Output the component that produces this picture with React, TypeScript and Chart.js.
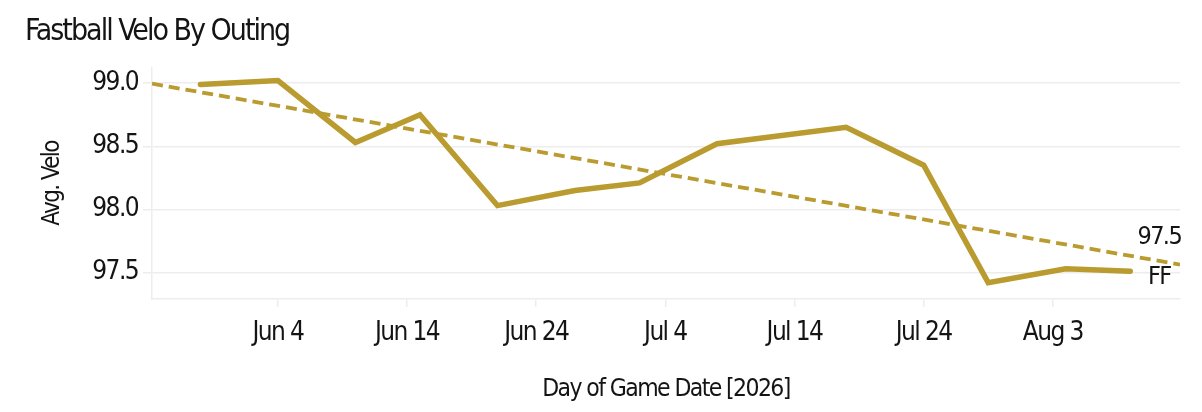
import React, { useEffect, useRef } from "react";
import { Chart, registerables } from "chart.js";

Chart.register(...registerables);

// ---- data ----
const gameDates = [
  "2026-05-29", "2026-06-04", "2026-06-10", "2026-06-15", "2026-06-21",
  "2026-06-27", "2026-07-02", "2026-07-08", "2026-07-18", "2026-07-24",
  "2026-07-29", "2026-08-04", "2026-08-09",
];
const avgVelo = [
  98.99, 99.02, 98.53, 98.75, 98.03,
  98.15, 98.21, 98.52, 98.65, 98.35,
  97.42, 97.53, 97.51,
];
const seriesName = "FF";
const tickDates = [
  "2026-06-04", "2026-06-14", "2026-06-24", "2026-07-04",
  "2026-07-14", "2026-07-24", "2026-08-03",
];
const tickLabels = ["Jun 4", "Jun 14", "Jun 24", "Jul 4", "Jul 14", "Jul 24", "Aug 3"];
const yTicks = [97.5, 98.0, 98.5, 99.0];

const chartTitle = "Fastball Velo By Outing";
const xTitle = "Day of Game Date [2026]";
const yTitle = "Avg. Velo";

// ---- helpers ----
const toDay = (s: string) => {
  const [y, m, d] = s.split("-").map(Number);
  return Date.UTC(y, m - 1, d) / 86400000;
};

const X_MIN = toDay("2026-05-25") + 0.25;
const X_MAX = toDay("2026-08-12") + 0.85;
const Y_MIN = 97.29;
const Y_MAX = 99.12;

const FONT = '"Liberation Sans Narrow", "DejaVu Sans Condensed", "Roboto", sans-serif';
const GOLD = "#b99b2f";
const TEXT = "#141414";
const GRID = "#ededed";
const SPACING = "-1.6px";

function linearFit(xs: number[], ys: number[]) {
  const n = xs.length;
  const mx = xs.reduce((a, b) => a + b, 0) / n;
  const my = ys.reduce((a, b) => a + b, 0) / n;
  let sxy = 0, sxx = 0;
  for (let i = 0; i < n; i++) {
    sxy += (xs[i] - mx) * (ys[i] - my);
    sxx += (xs[i] - mx) * (xs[i] - mx);
  }
  const slope = sxy / sxx;
  return (x: number) => my + slope * (x - mx);
}

export default function App() {
  const ref = useRef<HTMLCanvasElement | null>(null);

  useEffect(() => {
    document.body.style.margin = "0";
    if (!ref.current) return;

    const xs = gameDates.map(toDay);
    const points = xs.map((x, i) => ({ x, y: avgVelo[i] }));
    const fit = linearFit(xs, avgVelo);
    const trend = [
      { x: X_MIN, y: fit(X_MIN) },
      { x: X_MAX, y: fit(X_MAX) },
    ];
    const tickVals = tickDates.map(toDay);

    const spacing = {
      id: "spacing",
      beforeDraw(chart: any) {
        (chart.ctx as any).letterSpacing = SPACING;
      },
    };

    const overlay = {
      id: "overlay",
      afterDraw(chart: any) {
        const ctx = chart.ctx;
        ctx.save();
        (ctx as any).letterSpacing = "-2px";
        ctx.fillStyle = TEXT;
        ctx.font = `30px ${FONT}`;
        ctx.textAlign = "left";
        ctx.textBaseline = "alphabetic";
        ctx.fillText(chartTitle, 25, 39.5);

        const meta = chart.getDatasetMeta(1);
        const last = meta.data[meta.data.length - 1];
        if (last) {
          (ctx as any).letterSpacing = SPACING;
          ctx.font = `25px ${FONT}`;
          ctx.textAlign = "center";
          ctx.textBaseline = "middle";
          ctx.fillText(avgVelo[avgVelo.length - 1].toFixed(1), last.x + 29, last.y - 34);
          ctx.fillText(seriesName, last.x + 29, last.y + 6);
        }
        ctx.restore();
      },
    };

    const chart = new Chart(ref.current, {
      type: "line",
      data: {
        datasets: [
          {
            label: "Trend",
            data: trend,
            borderColor: GOLD,
            borderWidth: 3.8,
            borderDash: [11, 6],
            pointRadius: 0,
            fill: false,
          },
          {
            label: seriesName,
            data: points,
            borderColor: GOLD,
            borderWidth: 5.5,
            borderCapStyle: "round",
            borderJoinStyle: "miter",
            pointRadius: 0,
            tension: 0,
            fill: false,
          },
        ],
      },
      options: {
        animation: false,
        responsive: false,
        devicePixelRatio: 1,
        layout: { padding: { top: 68, right: 22, bottom: 0, left: 0 } },
        plugins: {
          legend: { display: false },
          tooltip: { enabled: false },
          title: { display: false },
        },
        scales: {
          x: {
            type: "linear",
            min: X_MIN,
            max: X_MAX,
            afterBuildTicks: (scale: any) => {
              scale.ticks = tickVals.map((v) => ({ value: v }));
            },
            afterFit: (scale: any) => {
              scale.height = 113;
            },
            ticks: {
              autoSkip: false,
              maxRotation: 0,
              padding: 11,
              color: TEXT,
              font: { family: FONT, size: 26 },
              callback: (v: any) => {
                const i = tickVals.indexOf(Number(v));
                return i >= 0 ? tickLabels[i] : "";
              },
            },
            grid: {
              drawOnChartArea: false,
              drawTicks: true,
              tickLength: 8,
              color: GRID,
              lineWidth: 1.5,
            },
            border: { display: true, color: GRID, width: 1.5 },
            title: {
              display: true,
              text: xTitle,
              color: TEXT,
              font: { family: FONT, size: 24.5 },
              padding: { top: 0, bottom: 8 },
            },
          },
          y: {
            type: "linear",
            min: Y_MIN,
            max: Y_MAX,
            afterBuildTicks: (scale: any) => {
              scale.ticks = yTicks.map((v) => ({ value: v }));
            },
            afterFit: (scale: any) => {
              scale.width = 152;
            },
            ticks: {
              padding: 5,
              color: TEXT,
              font: { family: FONT, size: 26 },
              callback: (v: any) => Number(v).toFixed(1),
            },
            grid: {
              drawOnChartArea: true,
              drawTicks: true,
              tickLength: 9,
              color: GRID,
              lineWidth: 1.5,
            },
            border: { display: true, color: GRID, width: 1.5 },
            title: {
              display: true,
              text: yTitle,
              color: TEXT,
              font: { family: FONT, size: 24 },
              padding: { top: 38, bottom: 0 },
            },
          },
        },
      },
      plugins: [spacing, overlay],
    });

    return () => chart.destroy();
  }, []);

  return (
    <div style={{ width: 1202, height: 412 }}>
      <canvas ref={ref} width={1202} height={412} style={{ display: "block" }} />
    </div>
  );
}
